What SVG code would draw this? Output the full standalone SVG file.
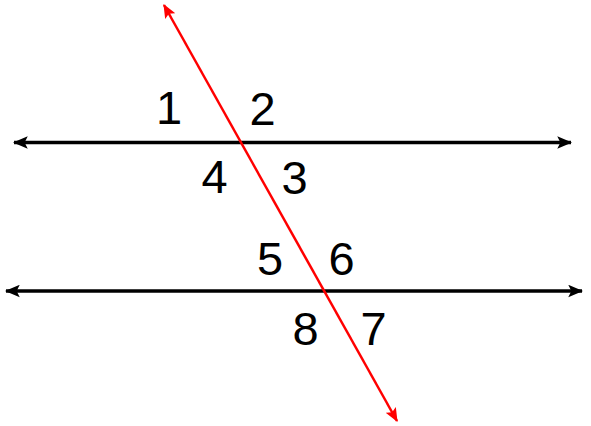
<svg xmlns="http://www.w3.org/2000/svg" width="591" height="426" viewBox="0 0 591 426">
<defs>
<style>
.num{font-family:"Liberation Sans",Arial,sans-serif;font-size:47px;fill:#000;text-anchor:middle}
.blk{stroke:#000;stroke-width:3.5;fill:none}
.red{stroke:#ff0000;stroke-width:2.5;fill:none}
</style>
<marker id="ah" markerUnits="userSpaceOnUse" markerWidth="15" markerHeight="13" viewBox="0 0 12 10" refX="11" refY="5" orient="auto-start-reverse">
<path d="M0,0 L12,5 L0,10 L2.5,5 z" fill="#000"/>
</marker>
<marker id="ahr" markerUnits="userSpaceOnUse" markerWidth="14" markerHeight="12" viewBox="0 0 12 10" refX="11" refY="5" orient="auto-start-reverse">
<path d="M0,0 L12,5 L0,10 L2.5,5 z" fill="#ff0000"/>
</marker>
</defs>
<rect width="591" height="426" fill="#fff"/>
<g id="connectors">
<line class="blk" x1="14" y1="142.5" x2="571" y2="142.5" marker-start="url(#ah)" marker-end="url(#ah)"/>
<line class="blk" x1="6" y1="291" x2="582" y2="291" marker-start="url(#ah)" marker-end="url(#ah)"/>
<line class="red" x1="164" y1="5" x2="397" y2="421" marker-start="url(#ahr)" marker-end="url(#ahr)"/>
</g>
<g id="n1"><text class="num" x="169" y="124">1</text></g>
<g id="n2"><text class="num" x="262.5" y="125">2</text></g>
<g id="n3"><text class="num" x="294.5" y="194">3</text></g>
<g id="n4"><text class="num" x="214.5" y="193">4</text></g>
<g id="n5"><text class="num" x="270" y="275">5</text></g>
<g id="n6"><text class="num" x="341.5" y="275">6</text></g>
<g id="n7"><text class="num" x="373.5" y="345">7</text></g>
<g id="n8"><text class="num" x="305.5" y="345">8</text></g>
</svg>
